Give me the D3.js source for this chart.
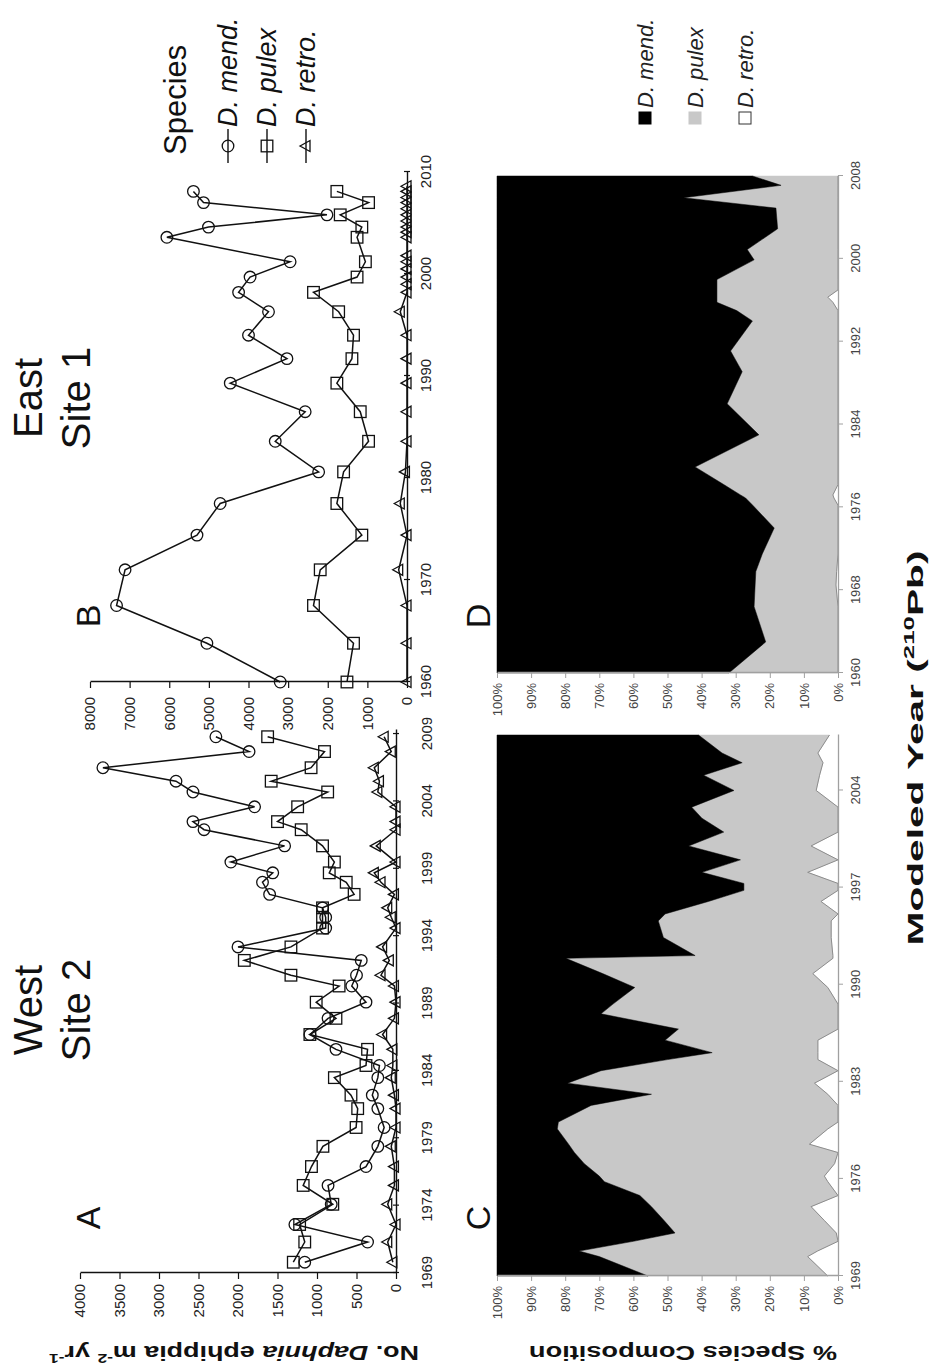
<!DOCTYPE html>
<html>
<head>
<meta charset="utf-8">
<script src="https://cdn.jsdelivr.net/npm/d3@7/dist/d3.min.js"></script>
<style>
  body { margin: 0; background: #fff; }
  svg { display: block; }
  text { font-family: 'Liberation Sans', Arial, sans-serif; }
  .tick text { font-family: 'Liberation Sans Narrow', 'Liberation Sans', Arial, sans-serif; }
</style>
</head>
<body>
<script>
'use strict';

// ---- panel A: West Site 2, ephippia m-2 yr-1
var aYears = [1969.8, 1971.3, 1972.6, 1974.1, 1975.5, 1976.9, 1978.4, 1979.8, 1981.2, 1982.2,
              1983.5, 1984.4, 1985.6, 1986.7, 1987.9, 1989.1, 1990.3, 1991.1, 1992.2, 1993.2,
              1994.6, 1995.4, 1996.1, 1997.1, 1998.0, 1998.7, 1999.5, 2000.7, 2001.9, 2002.5,
              2003.6, 2004.7, 2005.5, 2006.5, 2007.7, 2008.8];
var aMend  = [1155, 360, 1280, 820, 860, 380, 230, 150, 230, 300,
              230, 210, 760, 1090, 860, 380, 560, 500, 440, 2000,
              890, 890, 930, 1600, 1690, 1560, 2090, 1410, 2430, 2570,
              1790, 2570, 2785, 3710, 1860, 2280];
var aPulex = [1300, 1155, 1220, 800, 1175, 1070, 925, 505, 485, 570,
              780, 380, 360, 1090, 760, 1010, 720, 1330, 1920, 1330,
              930, 930, 930, 530, 630, 845, 780, 930, 1200, 1500,
              1245, 865, 1580, 1075, 905, 1625];
var aRetro = [40, 105, 0, 105, 20, 20, 60, 0, 0, 20,
              60, 40, 40, 170, 20, 0, 20, 190, 85, 170,
              0, 60, 105, 20, 190, 275, 0, 250, 0, 0,
              0, 230, 210, 275, 60, 150];
var aTicks = [1969, 1974, 1979, 1984, 1989, 1994, 1999, 2004, 2009];
var aValueTicks = [0, 500, 1000, 1500, 2000, 2500, 3000, 3500, 4000];

// ---- panel B: East Site 1
var bYears = [1960.0, 1963.8, 1967.5, 1971.0, 1974.4, 1977.5, 1980.6, 1983.6, 1986.5, 1989.3,
              1991.7, 1994.0, 1996.3, 1998.2, 1999.7, 2001.2, 2003.6, 2004.6, 2005.8, 2007.0, 2008.1];
var bMend  = [3200, 5050, 7330, 7115, 5300, 4715, 2230, 3325, 2570, 4460,
              3030, 4000, 3495, 4250, 3960, 2950, 6060, 5010, 2020, 5135, 5390];
var bPulex = [1515, 1350, 2360, 2190, 1140, 1770, 1600, 970, 1180, 1770,
              1390, 1350, 1725, 2360, 1260, 1050, 1260, 1140, 1685, 970, 1770];
var bRetroYears = [1960.0, 1963.8, 1967.5, 1971.0, 1974.4, 1977.5, 1980.6, 1983.6, 1986.5, 1989.3,
                   1991.7, 1994.0, 1996.3, 1998.2, 1999.0, 1999.7, 2000.5, 2001.2, 2001.8, 2003.6,
                   2004.1, 2004.6, 2005.2, 2005.8, 2006.4, 2007.0, 2007.5, 2008.1, 2008.6];
var bRetro = [0, 0, 0, 210, 0, 170, 40, 0, 0, 0,
              0, 0, 170, 0, 0, 0, 0, 0, 0, 0,
              0, 0, 0, 0, 0, 0, 0, 0, 0];
var bTicks = [1960, 1970, 1980, 1990, 2000, 2010];
var bValueTicks = [0, 1000, 2000, 3000, 4000, 5000, 6000, 7000, 8000];

// ---- panel C: West Site 2, % species composition
var cYears = [1969.0, 1970.4, 1970.8, 1971.5, 1972.1, 1973.0, 1974.0, 1974.8, 1975.8, 1976.2,
              1977.1, 1977.9, 1978.5, 1979.6, 1980.1, 1981.3, 1982.1, 1982.9, 1983.8, 1984.6,
              1985.1, 1986.0, 1986.8, 1987.9, 1988.6, 1989.8, 1990.8, 1991.9, 1992.1, 1993.4,
              1994.6, 1995.1, 1996.0, 1996.8, 1997.3, 1998.1, 1999.0, 2000.0, 2001.0, 2002.0,
              2002.8, 2004.0, 2005.1, 2006.0, 2006.7, 2008.0];
var cMend  = [44.3, 30, 24.1, 40, 52.2, 49, 45.3, 41.9, 31.5, 30,
              25.6, 22.7, 21, 17.7, 18, 27.6, 45.3, 20.7, 30.5, 50,
              63.1, 49.3, 53.2, 30.5, 34, 40.4, 31, 20.2, 58.1, 48.8,
              47.3, 49.3, 62, 72.4, 72.4, 60.1, 71.4, 56.2, 66.5, 60.1,
              57.1, 69.5, 60.6, 71.9, 66, 59.1];
var cPulex = [52.7, 61.1, 69.9, 60, 47.3, 47, 46.8, 58.1, 65.5, 66,
              73.4, 77.3, 70.6, 79.3, 82, 72.4, 51.7, 72.4, 69.5, 44.1,
              31, 44.8, 46.8, 69.5, 66, 56.6, 61.6, 78.3, 40.4, 49.2,
              50.7, 50.7, 33, 27.6, 27.6, 31, 28.6, 35.9, 33.5, 39.9,
              42.9, 24.1, 34, 23.7, 28.1, 38.4];
var cRetro = [3, 8.9, 6, 0, 0.5, 4, 7.9, 0, 3, 4,
              1, 0, 8.4, 3, 0, 0, 3, 6.9, 0, 5.9,
              5.9, 5.9, 0, 0, 0, 3, 7.4, 1.5, 1.5, 2,
              2, 0, 5, 0, 0, 8.9, 0, 7.9, 0, 0,
              0, 6.4, 5.4, 4.4, 5.9, 2.5];
var cTicks = [1969, 1976, 1983, 1990, 1997, 2004];

// ---- panel D: East Site 1, % species composition
var dYears = [1960.0, 1963.0, 1966.4, 1968.5, 1969.8, 1971.5, 1974.0, 1976.2, 1976.9, 1977.2,
              1978.2, 1979.9, 1983.0, 1986.0, 1989.1, 1991.1, 1994.0, 1995.0, 1995.8, 1996.3,
              1997.0, 1998.0, 1999.9, 2000.9, 2002.9, 2004.9, 2005.9, 2007.1, 2008.0];
var dMend  = [68, 78.8, 75.4, 75.7, 75.9, 77.8, 81.3, 75, 72.9, 71.4,
              66.5, 58.1, 76.8, 67.5, 71.9, 68.5, 74.9, 70.3, 64.5, 64.5,
              64.5, 64.5, 75.4, 73.4, 82.3, 81.8, 54.7, 83.3, 74.9];
var dPulex = [32, 21.2, 24.6, 23.7, 23.7, 22.2, 18.7, 25, 25.9, 27.1,
              33.5, 41.9, 23.2, 32.5, 28.1, 31.5, 25.1, 29.7, 34, 32.5,
              35.5, 35.5, 24.6, 26.6, 17.7, 18.2, 45.3, 16.7, 25.1];
var dRetro = [0, 0, 0, 0.6, 0.4, 0, 0, 0, 1.2, 1.5,
              0, 0, 0, 0, 0, 0, 0, 0, 1.5, 3,
              0, 0, 0, 0, 0, 0, 0, 0, 0];
var dTicks = [1960, 1968, 1976, 1984, 1992, 2000, 2008];
var pctTicks = [0, 10, 20, 30, 40, 50, 60, 70, 80, 90, 100];

var speciesNames = ['D. mend.', 'D. pulex', 'D. retro.'];

// the figure is laid out landscape (1370 x 935) and then turned a quarter left
var svg = d3.select('body').append('svg')
  .attr('width', 935)
  .attr('height', 1370);

var fig = svg.append('g')
  .attr('transform', 'translate(0,1370) rotate(-90)');

function marker(g, type, cx, cy) {
  var m;
  if (type === 'circle') {
    m = g.append('circle').attr('cx', cx).attr('cy', cy).attr('r', 5.8);
  } else if (type === 'square') {
    m = g.append('rect').attr('x', cx - 5.8).attr('y', cy - 5.8).attr('width', 11.6).attr('height', 11.6);
  } else {
    m = g.append('path')
      .attr('d', 'M' + cx + ',' + (cy - 6) + 'L' + (cx + 5.5) + ',' + (cy + 4) + 'L' + (cx - 5.5) + ',' + (cy + 4) + 'Z');
  }
  m.attr('fill', 'none').attr('stroke', '#111').attr('stroke-width', 1.3);
}

function linePanel(p) {
  var g = fig.append('g');
  var x = d3.scaleLinear().domain(p.xDomain).range(p.xRange);
  var y = d3.scaleLinear().domain([0, p.yTicks[p.yTicks.length - 1]]).range(p.yRange);

  var xAxis = g.append('g')
    .attr('transform', 'translate(0,' + p.yRange[0] + ')')
    .call(d3.axisBottom(x).tickValues(p.xTicks).tickFormat(d3.format('d'))
      .tickSizeInner(3).tickSizeOuter(0).tickPadding(p.xPad));
  xAxis.selectAll('.tick line').attr('y1', -3);

  var yAxis = g.append('g')
    .attr('transform', 'translate(' + p.xRange[0] + ',0)')
    .call(d3.axisLeft(y).tickValues(p.yTicks).tickFormat(d3.format('d'))
      .tickSizeInner(6).tickSizeOuter(0).tickPadding(p.yPad));

  [xAxis, yAxis].forEach(function(a) {
    a.select('.domain').attr('stroke', '#111').attr('stroke-width', 1.4);
    a.selectAll('.tick line').attr('stroke', '#111').attr('stroke-width', 1.2);
    a.selectAll('.tick text').attr('font-size', 15).attr('fill', '#222');
  });

  p.series.forEach(function(s) {
    var pts = s.years.map(function(yr, i) { return [x(yr), y(s.values[i])]; });
    g.append('path')
      .attr('d', d3.line()(pts))
      .attr('fill', 'none')
      .attr('stroke', '#111')
      .attr('stroke-width', 1.5);
    pts.forEach(function(pt) { marker(g, s.type, pt[0], pt[1]); });
  });
}

var fills = { retro: '#ffffff', pulex: '#c8c8c8', mend: '#000000' };

function areaPanel(p) {
  var g = fig.append('g');
  var x = d3.scaleLinear().domain([p.years[0], p.years[p.years.length - 1]]).range(p.xRange);
  var y = d3.scaleLinear().domain([0, 100]).range(p.yRange);

  var rows = p.years.map(function(yr, i) {
    return { year: yr, retro: p.retro[i], pulex: p.pulex[i], mend: p.mend[i] };
  });
  var layers = d3.stack().keys(['retro', 'pulex', 'mend'])(rows);

  var area = d3.area()
    .x(function(d) { return x(d.data.year); })
    .y0(function(d) { return y(d[0]); })
    .y1(function(d) { return y(d[1]); });

  g.selectAll('path.layer')
    .data(layers)
    .enter().append('path')
    .attr('class', 'layer')
    .attr('d', area)
    .attr('fill', function(d) { return fills[d.key]; })
    .attr('stroke', function(d) { return fills[d.key]; })
    .attr('stroke-width', 0.5);

  // outline of the white (D. retro.) band
  g.append('path')
    .attr('d', d3.line()
      .x(function(d) { return x(d.data.year); })
      .y(function(d) { return y(d[1]); })(layers[0]))
    .attr('fill', 'none')
    .attr('stroke', '#8c8c8c')
    .attr('stroke-width', 1);

  var xAxis = g.append('g')
    .attr('transform', 'translate(0,' + p.yRange[0] + ')')
    .call(d3.axisBottom(x).tickValues(p.ticks).tickFormat(d3.format('d'))
      .tickSizeInner(5).tickSizeOuter(0).tickPadding(8));
  var yAxis = g.append('g')
    .attr('transform', 'translate(' + p.xRange[0] + ',0)')
    .call(d3.axisLeft(y).tickValues(pctTicks).tickFormat(function(d) { return d + '%'; })
      .tickSizeInner(5).tickSizeOuter(0).tickPadding(5));

  [xAxis, yAxis].forEach(function(a) {
    a.select('.domain').attr('stroke', '#a0a0a0').attr('stroke-width', 1.3);
    a.selectAll('.tick line').attr('stroke', '#a0a0a0');
    a.selectAll('.tick text').attr('font-size', 13).attr('fill', '#444');
  });
}

linePanel({
  xDomain: [1969, 2009.3], xRange: [97, 640], yRange: [396, 80], xPad: 22, yPad: 5,
  xTicks: aTicks, yTicks: aValueTicks,
  series: [
    { years: aYears, values: aRetro, type: 'triangle' },
    { years: aYears, values: aPulex, type: 'square' },
    { years: aYears, values: aMend, type: 'circle' }
  ]
});

linePanel({
  xDomain: [1960, 2010], xRange: [688, 1198], yRange: [407, 90], xPad: 10, yPad: 9,
  xTicks: bTicks, yTicks: bValueTicks,
  series: [
    { years: bRetroYears, values: bRetro, type: 'triangle' },
    { years: bYears, values: bPulex, type: 'square' },
    { years: bYears, values: bMend, type: 'circle' }
  ]
});

areaPanel({ years: cYears, mend: cMend, pulex: cPulex, retro: cRetro, ticks: cTicks,
  xRange: [94, 635], yRange: [838, 497] });
areaPanel({ years: dYears, mend: dMend, pulex: dPulex, retro: dRetro, ticks: dTicks,
  xRange: [697, 1194], yRange: [838, 497] });

// panel letters and site titles
[['A', 152, 100], ['B', 754, 100], ['C', 152, 490], ['D', 754, 490]].forEach(function(l) {
  fig.append('text').attr('x', l[1]).attr('y', l[2])
    .attr('text-anchor', 'middle').attr('font-size', 34).attr('fill', '#111').text(l[0]);
});

[['West', 'Site 2', 360], ['East', 'Site 1', 972]].forEach(function(t) {
  fig.append('text').attr('x', t[2]).attr('y', 42)
    .attr('text-anchor', 'middle').attr('font-size', 40).attr('fill', '#111').text(t[0]);
  fig.append('text').attr('x', t[2]).attr('y', 90)
    .attr('text-anchor', 'middle').attr('font-size', 40).attr('fill', '#111').text(t[1]);
});

// legend for the line charts
fig.append('text').attr('x', 1215).attr('y', 186)
  .attr('font-size', 31).attr('fill', '#111').text('Species');

['circle', 'square', 'triangle'].forEach(function(type, i) {
  var ly = 228 + i * 39;
  fig.append('line').attr('x1', 1207).attr('x2', 1241).attr('y1', ly).attr('y2', ly)
    .attr('stroke', '#111').attr('stroke-width', 1.4);
  marker(fig, type, 1224, ly);
  fig.append('text').attr('x', 1243).attr('y', ly + 9)
    .attr('font-size', 27).attr('font-style', 'italic').attr('fill', '#111')
    .text(speciesNames[i]);
});

// legend for the composition charts
['mend', 'pulex', 'retro'].forEach(function(key, i) {
  var ly = 645 + i * 50;
  fig.append('rect').attr('x', 1246).attr('y', ly - 6).attr('width', 12).attr('height', 12)
    .attr('fill', fills[key])
    .attr('stroke', key === 'retro' ? '#333' : fills[key]);
  fig.append('text').attr('x', 1262).attr('y', ly + 8)
    .attr('font-size', 22).attr('font-style', 'italic').attr('fill', '#222')
    .text(speciesNames[i]);
});

// axis titles (the printed lettering is wide, so lengths are fixed)
var yTitle = fig.append('text')
  .attr('transform', 'translate(24,234) rotate(-90)')
  .attr('text-anchor', 'middle').attr('font-size', 20).attr('font-weight', 'bold').attr('fill', '#111')
  .attr('textLength', 370).attr('lengthAdjust', 'spacingAndGlyphs');
yTitle.append('tspan').text('No. ');
yTitle.append('tspan').attr('font-style', 'italic').text('Daphnia');
yTitle.append('tspan').text(' ephippia m');
yTitle.append('tspan').attr('font-size', 13).attr('dy', -8).text('-2');
yTitle.append('tspan').attr('dy', 8).text(' yr');
yTitle.append('tspan').attr('font-size', 13).attr('dy', -8).text('-1');

fig.append('text')
  .attr('transform', 'translate(24,683) rotate(-90)')
  .attr('text-anchor', 'middle').attr('font-size', 20).attr('font-weight', 'bold').attr('fill', '#111')
  .attr('textLength', 308).attr('lengthAdjust', 'spacingAndGlyphs')
  .text('% Species Composition');

var xTitle = fig.append('text')
  .attr('x', 622).attr('y', 923)
  .attr('text-anchor', 'middle').attr('font-size', 22).attr('font-weight', 'bold').attr('fill', '#111')
  .attr('textLength', 395).attr('lengthAdjust', 'spacingAndGlyphs');
xTitle.append('tspan').text('Modeled Year (');
xTitle.append('tspan').attr('font-size', 14).attr('dy', -9).text('210');
xTitle.append('tspan').attr('dy', 9).text('Pb)');
</script>
</body>
</html>
